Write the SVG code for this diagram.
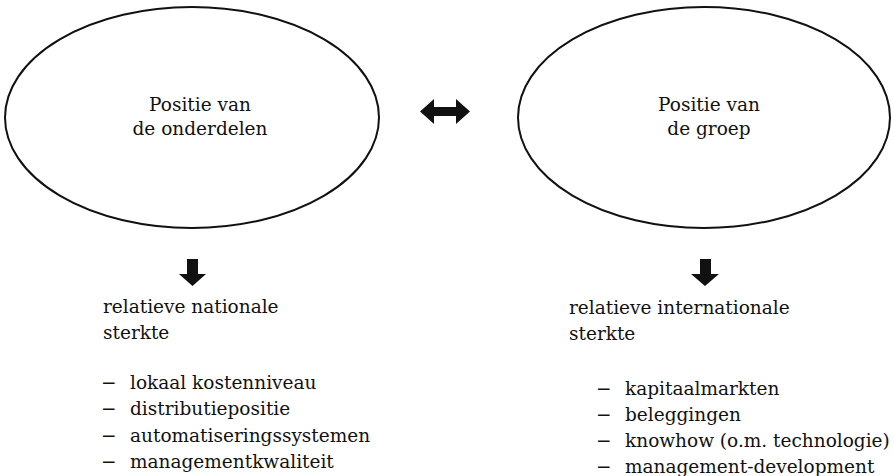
<svg xmlns="http://www.w3.org/2000/svg" width="894" height="476" viewBox="0 0 894 476">
<style>
text{font-family:"DejaVu Serif","Liberation Serif",serif;font-size:18.5px;fill:#111}
.c{text-anchor:middle}
.e{fill:none;stroke:#111;stroke-width:2}
.a{fill:#111}
</style>
<rect width="894" height="476" fill="#fff"/>
<g id="node-onderdelen">
<ellipse class="e" cx="192" cy="117.5" rx="187" ry="110.5"/>
<text class="c" x="200" y="111">Positie van</text>
<text class="c" x="200" y="135">de onderdelen</text>
</g>
<g id="node-groep">
<ellipse class="e" cx="704" cy="117.5" rx="186" ry="110.5"/>
<text class="c" x="709" y="111">Positie van</text>
<text class="c" x="709" y="135">de groep</text>
</g>
<g id="connectors">
<path class="a" d="M420,111.5 L434,99 L434,107 L456,107 L456,99 L470,111.5 L456,124 L456,116 L434,116 L434,124 Z"/>
<path class="a" d="M187,259 L198,259 L198,274 L206,274 L192.5,286 L179,274 L187,274 Z"/>
<path class="a" d="M700,259 L711,259 L711,274 L719,274 L705,286 L691,274 L700,274 Z"/>
</g>
<g id="node-nationaal">
<text x="103" y="313">relatieve nationale</text>
<text x="103" y="339">sterkte</text>
<text x="101" y="389">−</text><text x="130" y="389">lokaal kostenniveau</text>
<text x="101" y="415">−</text><text x="130" y="415">distributiepositie</text>
<text x="101" y="442">−</text><text x="130" y="442">automatiseringssystemen</text>
<text x="101" y="468">−</text><text x="130" y="468">managementkwaliteit</text>
</g>
<g id="node-internationaal">
<text x="569" y="314">relatieve internationale</text>
<text x="569" y="340">sterkte</text>
<text x="596" y="395">−</text><text x="625" y="395">kapitaalmarkten</text>
<text x="596" y="421">−</text><text x="625" y="421">beleggingen</text>
<text x="596" y="447">−</text><text x="625" y="447">knowhow (o.m. technologie)</text>
<text x="596" y="473">−</text><text x="625" y="473">management-development</text>
</g>
</svg>
